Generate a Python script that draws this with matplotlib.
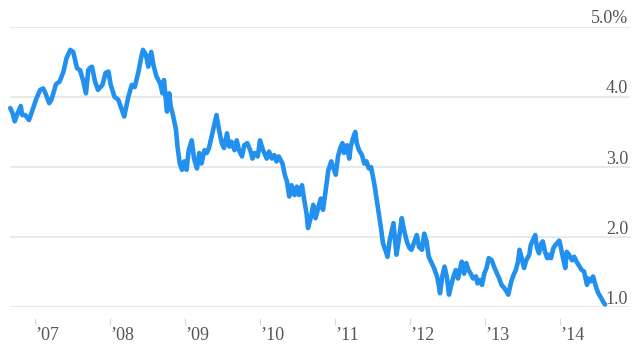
import matplotlib
matplotlib.use("Agg")
import matplotlib.pyplot as plt
import matplotlib.transforms as mtransforms

# yield (%), dates as decimal years
years = [
    2006.67, 2006.70, 2006.73, 2006.77, 2006.81, 2006.83, 2006.87, 2006.92, 2006.96, 2007.02,
    2007.07, 2007.11, 2007.14, 2007.19, 2007.22, 2007.28, 2007.33, 2007.38, 2007.42, 2007.47,
    2007.51, 2007.56, 2007.60, 2007.64, 2007.68, 2007.71, 2007.73, 2007.76, 2007.80, 2007.84,
    2007.90, 2007.94, 2007.98, 2008.01, 2008.06, 2008.11, 2008.16, 2008.19, 2008.24, 2008.29,
    2008.33, 2008.38, 2008.41, 2008.44, 2008.48, 2008.51, 2008.55, 2008.58, 2008.62, 2008.67,
    2008.70, 2008.72, 2008.76, 2008.79, 2008.81, 2008.84, 2008.88, 2008.90, 2008.93, 2008.96,
    2008.99, 2009.02, 2009.05, 2009.09, 2009.12, 2009.16, 2009.19, 2009.22, 2009.26, 2009.29,
    2009.32, 2009.36, 2009.39, 2009.42, 2009.45, 2009.49, 2009.52, 2009.56, 2009.59, 2009.62,
    2009.66, 2009.69, 2009.72, 2009.76, 2009.79, 2009.83, 2009.87, 2009.90, 2009.93, 2009.97,
    2010.00, 2010.04, 2010.09, 2010.12, 2010.16, 2010.19, 2010.22, 2010.25, 2010.30, 2010.33,
    2010.36, 2010.39, 2010.42, 2010.46, 2010.49, 2010.52, 2010.56, 2010.59, 2010.62, 2010.64,
    2010.68, 2010.71, 2010.74, 2010.78, 2010.81, 2010.84, 2010.88, 2010.91, 2010.95, 2010.98,
    2011.01, 2011.04, 2011.07, 2011.10, 2011.12, 2011.16, 2011.19, 2011.21, 2011.24, 2011.27,
    2011.29, 2011.32, 2011.36, 2011.39, 2011.42, 2011.45, 2011.48, 2011.51, 2011.53, 2011.56,
    2011.59, 2011.61, 2011.64, 2011.68, 2011.70, 2011.73, 2011.76, 2011.78, 2011.80, 2011.82,
    2011.85, 2011.89, 2011.92, 2011.96, 2011.99, 2012.02, 2012.06, 2012.09, 2012.12, 2012.16,
    2012.19, 2012.22, 2012.25, 2012.29, 2012.32, 2012.36, 2012.38, 2012.40, 2012.43, 2012.46,
    2012.49, 2012.52, 2012.55, 2012.58, 2012.61, 2012.64, 2012.67, 2012.69, 2012.72, 2012.75,
    2012.78, 2012.81, 2012.84, 2012.88, 2012.90, 2012.93, 2012.96, 2012.99, 2013.02, 2013.05,
    2013.09, 2013.12, 2013.16, 2013.19, 2013.22, 2013.26, 2013.29, 2013.31, 2013.35, 2013.38,
    2013.41, 2013.44, 2013.46, 2013.49, 2013.52, 2013.55, 2013.59, 2013.61, 2013.64, 2013.67,
    2013.69, 2013.72, 2013.75, 2013.77, 2013.80, 2013.83, 2013.85, 2013.88, 2013.91, 2013.94,
    2013.99, 2014.01, 2014.04, 2014.07, 2014.09, 2014.12, 2014.16, 2014.19, 2014.22, 2014.25,
    2014.29, 2014.32, 2014.36, 2014.38, 2014.41, 2014.44, 2014.48, 2014.51, 2014.55, 2014.58,
    2014.60,
]
yields = [
    3.84, 3.77, 3.65, 3.77, 3.87, 3.74, 3.74, 3.67, 3.79, 3.98,
    4.10, 4.12, 4.05, 3.91, 3.96, 4.18, 4.22, 4.36, 4.55, 4.67,
    4.64, 4.41, 4.38, 4.24, 4.05, 4.38, 4.41, 4.43, 4.22, 4.10,
    4.17, 4.34, 4.36, 4.17, 4.00, 3.96, 3.81, 3.72, 3.98, 4.17,
    4.14, 4.36, 4.53, 4.67, 4.60, 4.43, 4.64, 4.45, 4.29, 4.19,
    4.05, 4.24, 3.79, 4.05, 3.86, 3.74, 3.53, 3.29, 3.05, 2.96,
    3.08, 2.96, 3.24, 3.38, 3.12, 2.98, 3.20, 3.05, 3.24, 3.20,
    3.27, 3.46, 3.60, 3.74, 3.55, 3.34, 3.27, 3.48, 3.29, 3.36,
    3.24, 3.38, 3.24, 3.15, 3.31, 3.34, 3.24, 3.12, 3.20, 3.15,
    3.38, 3.24, 3.12, 3.22, 3.12, 3.17, 3.08, 3.15, 3.05, 2.89,
    2.79, 2.58, 2.74, 2.60, 2.72, 2.60, 2.74, 2.53, 2.34, 2.13,
    2.29, 2.46, 2.27, 2.43, 2.55, 2.39, 2.70, 2.95, 3.08, 2.98,
    2.89, 3.15, 3.27, 3.34, 3.20, 3.31, 3.12, 3.29, 3.41, 3.50,
    3.34, 3.24, 3.17, 3.05, 3.08, 2.98, 3.00, 2.84, 2.72, 2.51,
    2.29, 2.15, 1.91, 1.79, 1.72, 1.96, 2.10, 2.20, 1.96, 1.75,
    1.96, 2.27, 2.10, 1.93, 1.85, 1.82, 1.94, 2.03, 1.86, 1.82,
    2.05, 1.94, 1.72, 1.63, 1.56, 1.44, 1.34, 1.20, 1.44, 1.58,
    1.44, 1.18, 1.32, 1.44, 1.53, 1.41, 1.56, 1.65, 1.48, 1.63,
    1.53, 1.48, 1.41, 1.44, 1.34, 1.39, 1.32, 1.48, 1.56, 1.70,
    1.67, 1.58, 1.48, 1.41, 1.32, 1.27, 1.22, 1.18, 1.37, 1.46,
    1.53, 1.65, 1.82, 1.70, 1.56, 1.67, 1.75, 1.89, 1.96, 2.03,
    1.86, 1.77, 1.91, 1.94, 1.79, 1.70, 1.75, 1.70, 1.84, 1.89,
    1.95, 1.86, 1.70, 1.56, 1.79, 1.75, 1.67, 1.72, 1.65, 1.60,
    1.53, 1.51, 1.32, 1.41, 1.37, 1.44, 1.29, 1.20, 1.13, 1.07,
    1.04,
]

ytick_vals = [1, 2, 3, 4, 5]
ytick_labels = ["1.0", "2.0", "3.0", "4.0", "5.0%"]
xtick_vals = [2007, 2008, 2009, 2010, 2011, 2012, 2013, 2014]
xtick_labels = ["\u201907", "\u201908", "\u201909", "\u201910",
                "\u201911", "\u201912", "\u201913", "\u201914"]

plt.rcParams["font.family"] = ["Liberation Serif", "DejaVu Serif"]

fig = plt.figure(figsize=(6.4, 3.61), dpi=100)
ax = fig.add_axes([10 / 640, 53.7 / 361, 620 / 640, 280.6 / 361])

ax.plot(years, yields, color="#2190ee", lw=3.3, solid_joinstyle="round",
        solid_capstyle="round", clip_on=False, zorder=3)

ax.set_xlim(2006.667, 2014.933)
ax.set_ylim(1, 5)

# horizontal grid only
ax.set_yticks(ytick_vals)
ax.yaxis.grid(True, color="#e3e3e3", lw=1.1)
ax.tick_params(axis="y", length=0, labelleft=False)
ax.set_axisbelow(True)

for s in ["top", "left", "right"]:
    ax.spines[s].set_visible(False)
ax.spines["bottom"].set_position(("outward", 8))
ax.spines["bottom"].set_color("none")

ax.set_xticks(xtick_vals)
ax.set_xticklabels(xtick_labels, ha="left")
ax.tick_params(axis="x", direction="out", length=5, width=0.8, color="#d8d8d8",
               labelsize=13, labelcolor="#555555", pad=1)

# value labels sit just above each gridline on the right
trans = mtransforms.blended_transform_factory(ax.transAxes, ax.transData)
for v, lab in zip(ytick_vals, ytick_labels):
    ax.annotate(lab, xy=(0.997, v), xycoords=trans, xytext=(0, 2.5),
                textcoords="offset points", ha="right", va="baseline",
                fontsize=13, color="#555555")

fig.savefig("out.png", dpi=100, facecolor="white")
